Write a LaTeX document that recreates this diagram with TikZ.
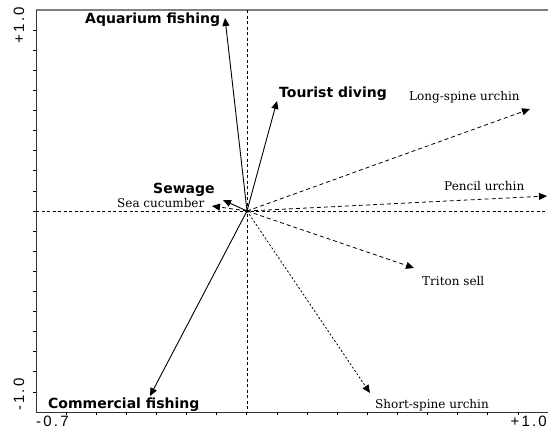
\documentclass[tikz,border=0pt]{standalone}
\usepackage{fontspec}
\newfontfamily\lblfont{DejaVu Sans}
\newfontfamily\spfont{DejaVu Serif}
\newfontfamily\axfont{Liberation Sans}
\newcommand{\axsp}{\kern2.2pt}
\usetikzlibrary{arrows.meta}
\begin{document}
\begin{tikzpicture}[x=1pt,y=-1pt,
  factor/.style={line width=0.9pt,-{Triangle[length=8pt,width=7pt]}},
  species/.style={line width=0.8pt,dash pattern=on 4pt off 3pt,-{Triangle[length=8pt,width=7pt]}},
  dotsp/.style={line width=0.8pt,dash pattern=on 2pt off 2pt,-{Triangle[length=8pt,width=7pt]}},
  flab/.style={font=\lblfont\bfseries\fontsize{14}{14}\selectfont,inner sep=0pt,anchor=west},
  slab/.style={font=\spfont\fontsize{12}{12}\selectfont,inner sep=0pt,anchor=west},
  axlab/.style={font=\axfont\fontsize{15}{15}\selectfont,inner sep=0pt},
  axisline/.style={line width=0.8pt,dash pattern=on 3pt off 2.5pt},
  tick/.style={line width=0.7pt}
]
\useasboundingbox (0,0) rectangle (548,429);
% frame
\coordinate (tl) at (36,10);
\coordinate (tr) at (548,10);
\coordinate (bl) at (36,412);
\coordinate (br) at (548,412);
\draw[gray,line width=1.5pt] (tl) -- (tr);
\draw[black!80,line width=1pt] (tl) -- (bl) -- (br);
\foreach \k in {1,...,19} \draw[tick] (33,{10+20.1*\k}) -- (36,{10+20.1*\k});
\foreach \k in {1,...,16} \draw[tick] ({36+30.12*\k},412) -- ({36+30.12*\k},415);
% zero axes
\coordinate (vt) at (247,10);
\coordinate (vb) at (247,412);
\coordinate (hl) at (36,211);
\coordinate (hr) at (548,211);
\draw[axisline] (vt) -- (vb);
\draw[axisline] (hl) -- (hr);
% axis labels
\node[axlab,rotate=90,anchor=east] (ytop) at (19,7) {+\axsp 1\axsp .\axsp 0};
\node[axlab,rotate=90,anchor=west] (ybot) at (19,411) {-\axsp 1\axsp .\axsp 0};
\node[axlab,anchor=west] (xleft) at (36,421) {-\axsp 0\axsp .\axsp 7};
\node[axlab,anchor=east] (xright) at (547,421) {+\axsp 1\axsp .\axsp 0};
% origin and tips
\coordinate (o) at (247,211);
\coordinate (aq) at (225,18);
\coordinate (td) at (277,101);
\coordinate (ls) at (530,109);
\coordinate (pu) at (547,196);
\coordinate (ts) at (414,268);
\coordinate (ss) at (370,393);
\coordinate (cf) at (150,396);
\coordinate (sw) at (223,200);
\coordinate (sc) at (212,206);
% arrows
\draw[factor] (o) -- (aq);
\draw[factor] (o) -- (td);
\draw[factor] (o) -- (cf);
\draw[factor] (o) -- (sw);
\draw[species] (o) -- (ls);
\draw[species] (o) -- (pu);
\draw[species] (o) -- (ts);
\draw[species] (o) -- (sc);
\draw[dotsp] (o) -- (ss);
% labels
\node[flab] (laq) at (85,20) {Aquarium fishing};
\node[flab] (ltd) at (279,94) {Tourist diving};
\node[flab] (lsw) at (153,190) {Sewage};
\node[flab] (lcf) at (48,405) {Commercial fishing};
\node[slab] (lls) at (409,97) {Long-spine urchin};
\node[slab] (lpu) at (444,186) {Pencil urchin};
\node[slab] (lts) at (422,281) {Triton sell};
\node[slab] (lss) at (375,405) {Short-spine urchin};
\node[slab] (lsc) at (117,203) {Sea cucumber};
\end{tikzpicture}
\end{document}
